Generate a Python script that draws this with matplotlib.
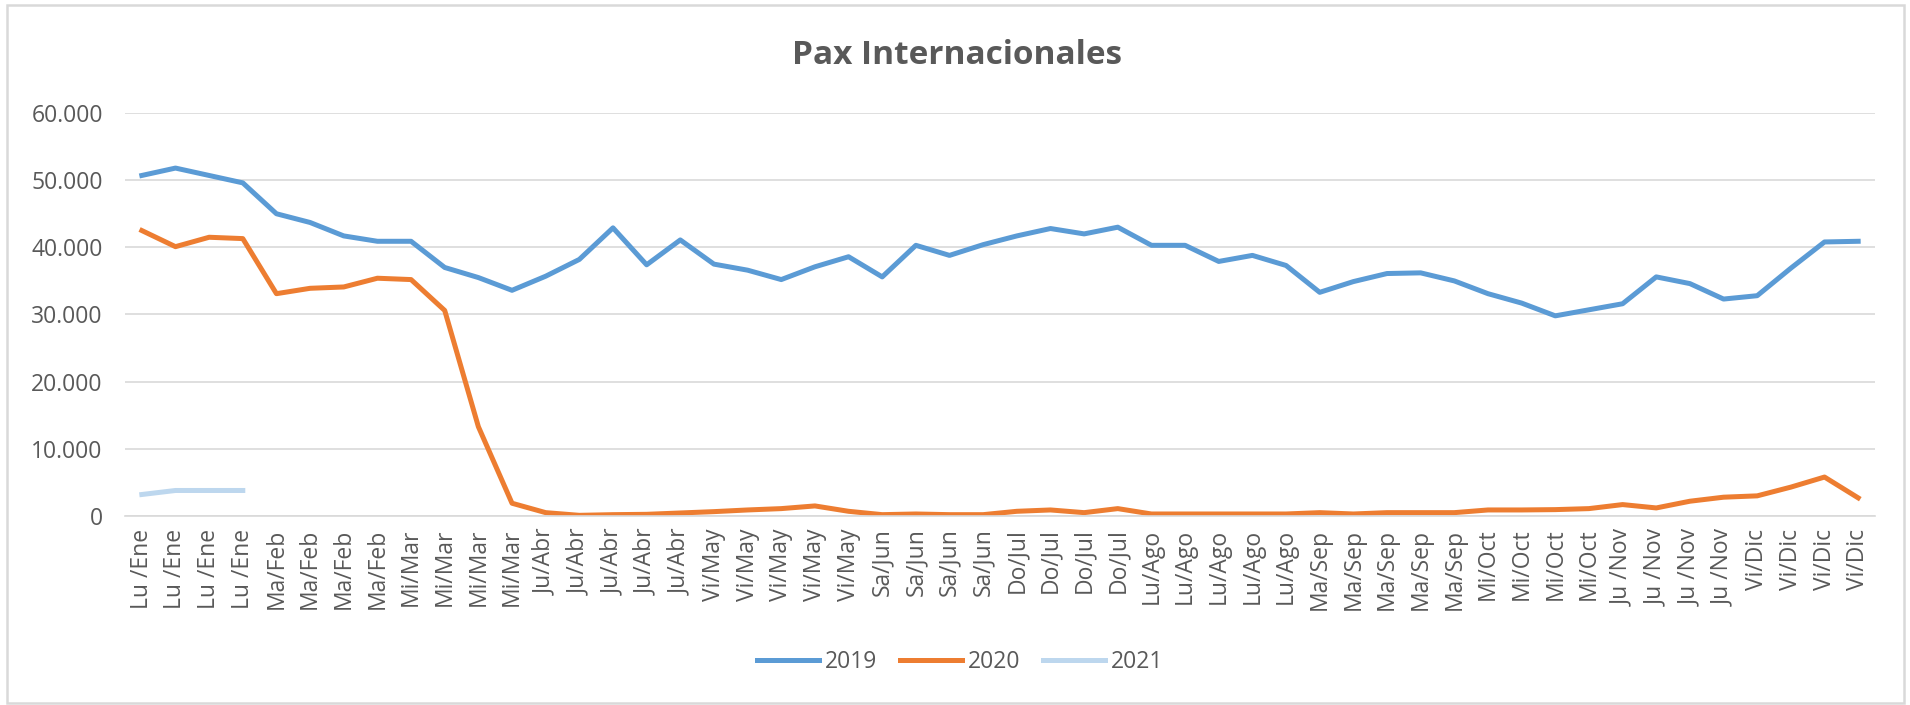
import matplotlib
matplotlib.use("Agg")
import matplotlib.pyplot as plt
from matplotlib.patches import Rectangle
from matplotlib.ticker import FuncFormatter

# Week labels (day/month) along the category axis
months = ["Lu /Ene", "Ma/Feb", "Mi/Mar", "Ju/Abr", "Vi/May", "Sa/Jun",
          "Do/Jul", "Lu/Ago", "Ma/Sep", "Mi/Oct", "Ju /Nov", "Vi/Dic"]
weeks_per_month = [4, 4, 4, 5, 5, 4, 4, 5, 5, 4, 4, 4]
labels = [m for m, n in zip(months, weeks_per_month) for _ in range(n)]

pax_2019 = [50700, 51800, 50700, 49600, 45000, 43700, 41700, 40900, 40900, 37000,
            35500, 33600, 35700, 38200, 42900, 37400, 41100, 37500, 36600, 35200,
            37100, 38600, 35600, 40300, 38800, 40400, 41700, 42800, 42000, 43000,
            40300, 40300, 37900, 38800, 37300, 33300, 34900, 36100, 36200, 35000,
            33100, 31700, 29800, 30700, 31600, 35600, 34600, 32300, 32800, 36900,
            40800, 40900]
pax_2020 = [42500, 40100, 41500, 41300, 33100, 33900, 34100, 35400, 35200, 30600,
            13300, 1900, 500, 100, 200, 250, 450, 650, 900, 1100,
            1500, 700, 200, 300, 200, 200, 700, 900, 500, 1100,
            300, 300, 300, 300, 300, 500, 300, 500, 500, 500,
            900, 900, 950, 1100, 1700, 1200, 2200, 2800, 3000, 4300,
            5800, 2700]
pax_2021 = [3200, 3800, 3800, 3800]

colors = {"2019": "#5B9BD5", "2020": "#ED7D31", "2021": "#BDD7EE"}
text_gray = "#595959"
grid_gray = "#D9D9D9"
plt.rcParams["font.family"] = ["Open Sans", "DejaVu Sans"]

fig = plt.figure(figsize=(19.1, 7.05), dpi=100)
ax = fig.add_axes([125 / 1910, 1 - 516 / 705, 1750 / 1910, (516 - 113) / 705])

x = list(range(len(labels)))
ax.plot(x, pax_2019, color=colors["2019"], lw=3.6, label="2019")
ax.plot(x, pax_2020, color=colors["2020"], lw=3.6, label="2020")
ax.plot(x[:len(pax_2021)], pax_2021, color=colors["2021"], lw=3.6, label="2021")

ax.set_xlim(-0.5, len(labels) - 0.5)
ax.set_ylim(0, 60000)
ax.set_yticks(range(0, 60001, 10000))
ax.yaxis.set_major_formatter(FuncFormatter(lambda v, p: f"{int(v):,}".replace(",", ".")))
ax.set_xticks(x)
ax.set_xticklabels(labels, rotation=90)
ax.tick_params(axis="both", length=0, labelsize=16.5, labelcolor=text_gray)
ax.tick_params(axis="y", pad=16)
ax.tick_params(axis="x", pad=9)
ax.grid(axis="y", color=grid_gray, lw=1.2)
ax.set_axisbelow(True)
for s in ["top", "right", "left"]:
    ax.spines[s].set_visible(False)
ax.spines["bottom"].set_color(grid_gray)
ax.spines["bottom"].set_linewidth(1.2)

fig.text(957 / 1910, 1 - 55 / 705, "Pax Internacionales", ha="center", va="center",
         fontsize=24, fontweight="bold", color=text_gray)

leg = fig.legend(loc="center", bbox_to_anchor=(960 / 1910, 1 - 662 / 705), ncol=3,
                 frameon=False, fontsize=16.5, handlelength=2.7, columnspacing=1.0,
                 handletextpad=0.25)
for t in leg.get_texts():
    t.set_color(text_gray)

# outer chart border
fig.patches.append(Rectangle((7 / 1910, 2 / 705), 1897 / 1910, 698 / 705,
                             transform=fig.transFigure, fill=False,
                             edgecolor=grid_gray, lw=1.8))

fig.savefig("out.png", dpi=100, facecolor="white")
